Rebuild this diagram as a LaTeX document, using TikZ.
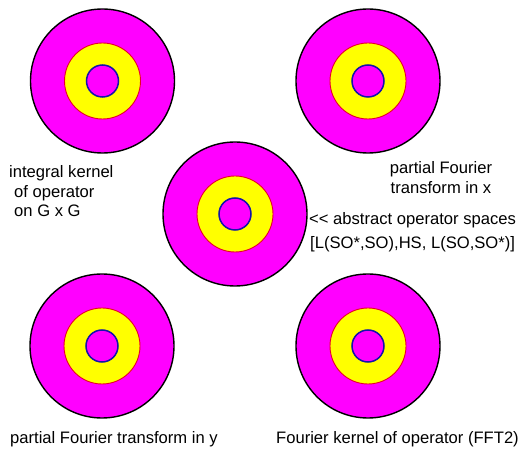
\documentclass[tikz,border=0pt]{standalone}
\usepackage{fontspec}
\setmainfont{Liberation Sans}
\definecolor{discmag}{RGB}{255,0,255}
\definecolor{discyel}{RGB}{255,255,0}
\definecolor{ringred}{RGB}{230,0,40}
\definecolor{innblue}{RGB}{20,20,170}
\tikzset{
  outerdisc/.style={circle, draw=black, line width=1.4pt, fill=discmag, minimum size=144pt, inner sep=0pt},
  ringdisc/.style={circle, draw=ringred, line width=0.9pt, fill=discyel, minimum size=76pt, inner sep=0pt},
  innerdisc/.style={circle, draw=innblue, line width=1.5pt, fill=discmag, minimum size=32pt, inner sep=0pt},
  lbl/.style={inner sep=0pt, font=\fontsize{16.6}{19.5}\selectfont}
}
\newcommand{\target}[2]{%
  \node[outerdisc] (#1o) at #2 {};
  \node[ringdisc] (#1r) at #2 {};
  \node[innerdisc] (#1i) at #2 {};
}
\begin{document}
\begin{tikzpicture}[x=1pt,y=-1pt]
\useasboundingbox (0,0) rectangle (523,449);
\target{tl}{(102.5,81)}
\target{tr}{(368,81)}
\target{c}{(235,214)}
\target{bl}{(102,346)}
\target{br}{(368,346)}
\node[lbl, anchor=base west] (k1) at (9,178) {integral kernel};
\node[lbl, anchor=base west] (k2) at (14,197.5) {of operator};
\node[lbl, anchor=base west] (k3) at (14,217) {on G x G};
\node[lbl, anchor=base] (px1) at (441,174) {partial Fourier};
\node[lbl, anchor=base] (px2) at (441,193.5) {transform in x};
\node[lbl, anchor=base west] (ab1) at (309,224.5) {{<}{<} abstract operator spaces};
\node[lbl, anchor=base west] (ab2) at (310,248.5) {[L(SO*,SO),HS, L(SO,SO*)]};
\node[lbl, anchor=base west] (py) at (10,444) {partial Fourier transform in y};
\node[lbl, anchor=base east] (ff) at (519,444) {Fourier kernel of operator (FFT2)};
\end{tikzpicture}
\end{document}
